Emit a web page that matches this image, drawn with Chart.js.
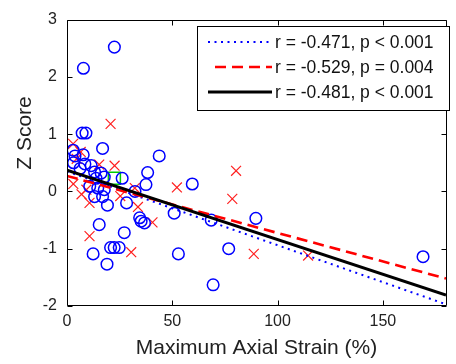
<!DOCTYPE html>
<html>
<head>
<meta charset="utf-8">
<script src="https://cdn.jsdelivr.net/npm/chart.js@4/dist/chart.umd.min.js"></script>
<style>
html,body{margin:0;padding:0;background:#fff;}
canvas{display:block;}
</style>
</head>
<body>
<canvas id="c" width="456" height="364"></canvas>
<script>
const xTicks = [0, 50, 100, 150];
const yTicks = [-2, -1, 0, 1, 2, 3];
const xTitle = 'Maximum Axial Strain (%)';
const yTitle = 'Z Score';

const blueX = [22.5,7.8,7.2,9.0,16.9,43.8,2.9,3.8,7.7,3.1,8.5,11.5,6.2,13.1,16.2,38.3,26.2,13.8,17.7,37.5,59.5,10.8,14.6,17.7,32.3,13.1,16.9,19.2,28.3,50.9,34.5,35.2,36.8,68.5,89.7,15.3,27.2,20.7,22.4,24.8,12.4,52.9,76.8,19.0,69.4,169.1];
const blueY = [2.52,2.15,1.02,1.02,0.75,0.62,0.72,0.62,0.64,0.50,0.48,0.45,0.40,0.34,0.32,0.33,0.23,0.23,0.25,0.12,0.13,0.09,0.06,0.03,0.0,-0.09,-0.09,-0.24,-0.2,-0.38,-0.46,-0.52,-0.55,-0.50,-0.47,-0.58,-0.72,-0.98,-0.98,-0.98,-1.09,-1.09,-1.0,-1.27,-1.63,-1.14];

const redX = [2.9,6.5,4.6,15.3,22.6,20.7,3.0,6.9,10.7,9.2,25.3,32.2,33.7,40.6,52.2,80.3,78.5,10.7,30.5,88.7,114.5];
const redY = [0.83,0.69,0.57,0.47,0.45,1.18,0.13,-0.05,-0.2,0.03,-0.08,0.06,-0.27,-0.54,0.07,0.36,-0.13,-0.78,-1.06,-1.09,-1.12];

const greenX = [22.5];
const greenY = [0.23];

const lineX = [0, 180];
const blueLineY = [0.35, -1.97];
const redLineY = [0.27, -1.52];
const blackLineY = [0.37, -1.81];

const legendLabels = ['r = -0.471, p < 0.001', 'r = -0.529, p = 0.004', 'r = -0.481, p < 0.001'];

const FONT = 'Liberation Sans, Arial, sans-serif';
const toPts = (xs, ys) => xs.map((x, i) => ({x: x, y: ys[i]}));

const lineStyles = [
  {color: '#0000ff', width: 2, dash: [2, 4.5]},
  {color: '#ff0000', width: 2.6, dash: [11, 6]},
  {color: '#000000', width: 3, dash: []}
];

const framePlugin = {
  id: 'frame',
  afterDatasetsDraw(chart) {
    const ctx = chart.ctx;
    const a = chart.chartArea;
    const xs = chart.scales.x, ys = chart.scales.y;
    const L = Math.round(a.left) + 0.5, R = Math.round(a.right) + 0.5;
    const T = Math.round(a.top) + 0.5, B = Math.round(a.bottom) - 0.5;
    ctx.save();
    ctx.strokeStyle = '#000';
    ctx.lineWidth = 1;
    ctx.setLineDash([]);
    ctx.beginPath();
    ctx.rect(L, T, R - L, B - T);
    ctx.stroke();
    const tl = 5;
    ctx.beginPath();
    xTicks.forEach(v => {
      const px = Math.round(xs.getPixelForValue(v)) + 0.5;
      ctx.moveTo(px, B); ctx.lineTo(px, B - tl);
      ctx.moveTo(px, T); ctx.lineTo(px, T + tl);
    });
    yTicks.forEach(v => {
      const py = Math.round(ys.getPixelForValue(v)) + 0.5;
      ctx.moveTo(L, py); ctx.lineTo(L + tl, py);
      ctx.moveTo(R, py); ctx.lineTo(R - tl, py);
    });
    ctx.stroke();

    // y-axis title
    ctx.fillStyle = '#222';
    ctx.font = '21px ' + FONT;
    ctx.textAlign = 'center';
    ctx.textBaseline = 'middle';
    ctx.translate(25, 133);
    ctx.rotate(-Math.PI / 2);
    ctx.fillText(yTitle, 0, 0);
    ctx.restore();

    // legend
    ctx.save();
    const bx = 197.5, by = 26.5, bw = 252, bh = 84;
    ctx.fillStyle = '#fff';
    ctx.fillRect(bx, by, bw, bh);
    ctx.strokeStyle = '#000';
    ctx.lineWidth = 1;
    ctx.strokeRect(bx, by, bw, bh);
    const rows = [42, 67, 92];
    ctx.font = '17.5px ' + FONT;
    ctx.textAlign = 'left';
    ctx.textBaseline = 'middle';
    legendLabels.forEach((lab, i) => {
      const st = lineStyles[i];
      ctx.strokeStyle = st.color;
      ctx.lineWidth = st.width;
      ctx.setLineDash(st.dash);
      ctx.beginPath();
      const x0 = i === 1 ? 215 : 208;
      ctx.moveTo(x0, rows[i]);
      ctx.lineTo(272, rows[i]);
      ctx.stroke();
      ctx.setLineDash([]);
      ctx.fillStyle = '#111';
      ctx.fillText(lab, 275, rows[i] + 1);
    });
    ctx.restore();
  }
};

new Chart(document.getElementById('c'), {
  type: 'scatter',
  data: {
    datasets: [
      {label: legendLabels[2], type: 'line', data: toPts(lineX, blackLineY), borderColor: lineStyles[2].color, borderWidth: lineStyles[2].width, pointRadius: 0, fill: false, order: 0, borderCapStyle: 'butt'},
      {label: legendLabels[1], type: 'line', data: toPts(lineX, redLineY), borderColor: lineStyles[1].color, borderWidth: lineStyles[1].width, borderDash: lineStyles[1].dash, pointRadius: 0, fill: false, order: 1, borderCapStyle: 'butt'},
      {label: legendLabels[0], type: 'line', data: toPts(lineX, blueLineY), borderColor: lineStyles[0].color, borderWidth: lineStyles[0].width, borderDash: lineStyles[0].dash, pointRadius: 0, fill: false, order: 2, borderCapStyle: 'butt'},
      {label: 'group 1', data: toPts(blueX, blueY), pointStyle: 'circle', pointRadius: 5.8, borderColor: '#0000ff', backgroundColor: 'rgba(0,0,0,0)', borderWidth: 1.5, order: 3},
      {label: 'group 2', data: toPts(redX, redY), pointStyle: 'crossRot', pointRadius: 7, borderColor: '#ff2020', backgroundColor: 'rgba(0,0,0,0)', borderWidth: 1.2, order: 3},
      {label: 'mean', data: toPts(greenX, greenY), pointStyle: 'rect', pointRadius: 8.5, borderColor: '#00cc00', backgroundColor: 'rgba(0,0,0,0)', borderWidth: 1.5, order: 3}
    ]
  },
  options: {
    responsive: false,
    animation: false,
    devicePixelRatio: 1,
    layout: {padding: {top: 15, left: 0, right: 0, bottom: 0}},
    plugins: {legend: {display: false}, tooltip: {enabled: false}},
    scales: {
      x: {
        type: 'linear', min: 0, max: 180,
        grid: {display: false, drawTicks: false},
        border: {display: false},
        afterFit(s) { s.height = 58; },
        afterBuildTicks(s) { s.ticks = xTicks.map(v => ({value: v})); },
        ticks: {font: {family: FONT, size: 16}, color: '#222', padding: 6, maxRotation: 0, autoSkip: false},
        title: {display: true, text: xTitle, font: {family: FONT, size: 21}, color: '#222', padding: {top: 0, bottom: 3}}
      },
      y: {
        type: 'linear', min: -2, max: 3,
        grid: {display: false, drawTicks: false},
        border: {display: false},
        afterFit(s) { s.width = 67; },
        afterBuildTicks(s) { s.ticks = yTicks.map(v => ({value: v})); },
        ticks: {font: {family: FONT, size: 16}, color: '#222', padding: 10, autoSkip: false}
      }
    }
  },
  plugins: [framePlugin]
});
</script>
</body>
</html>
